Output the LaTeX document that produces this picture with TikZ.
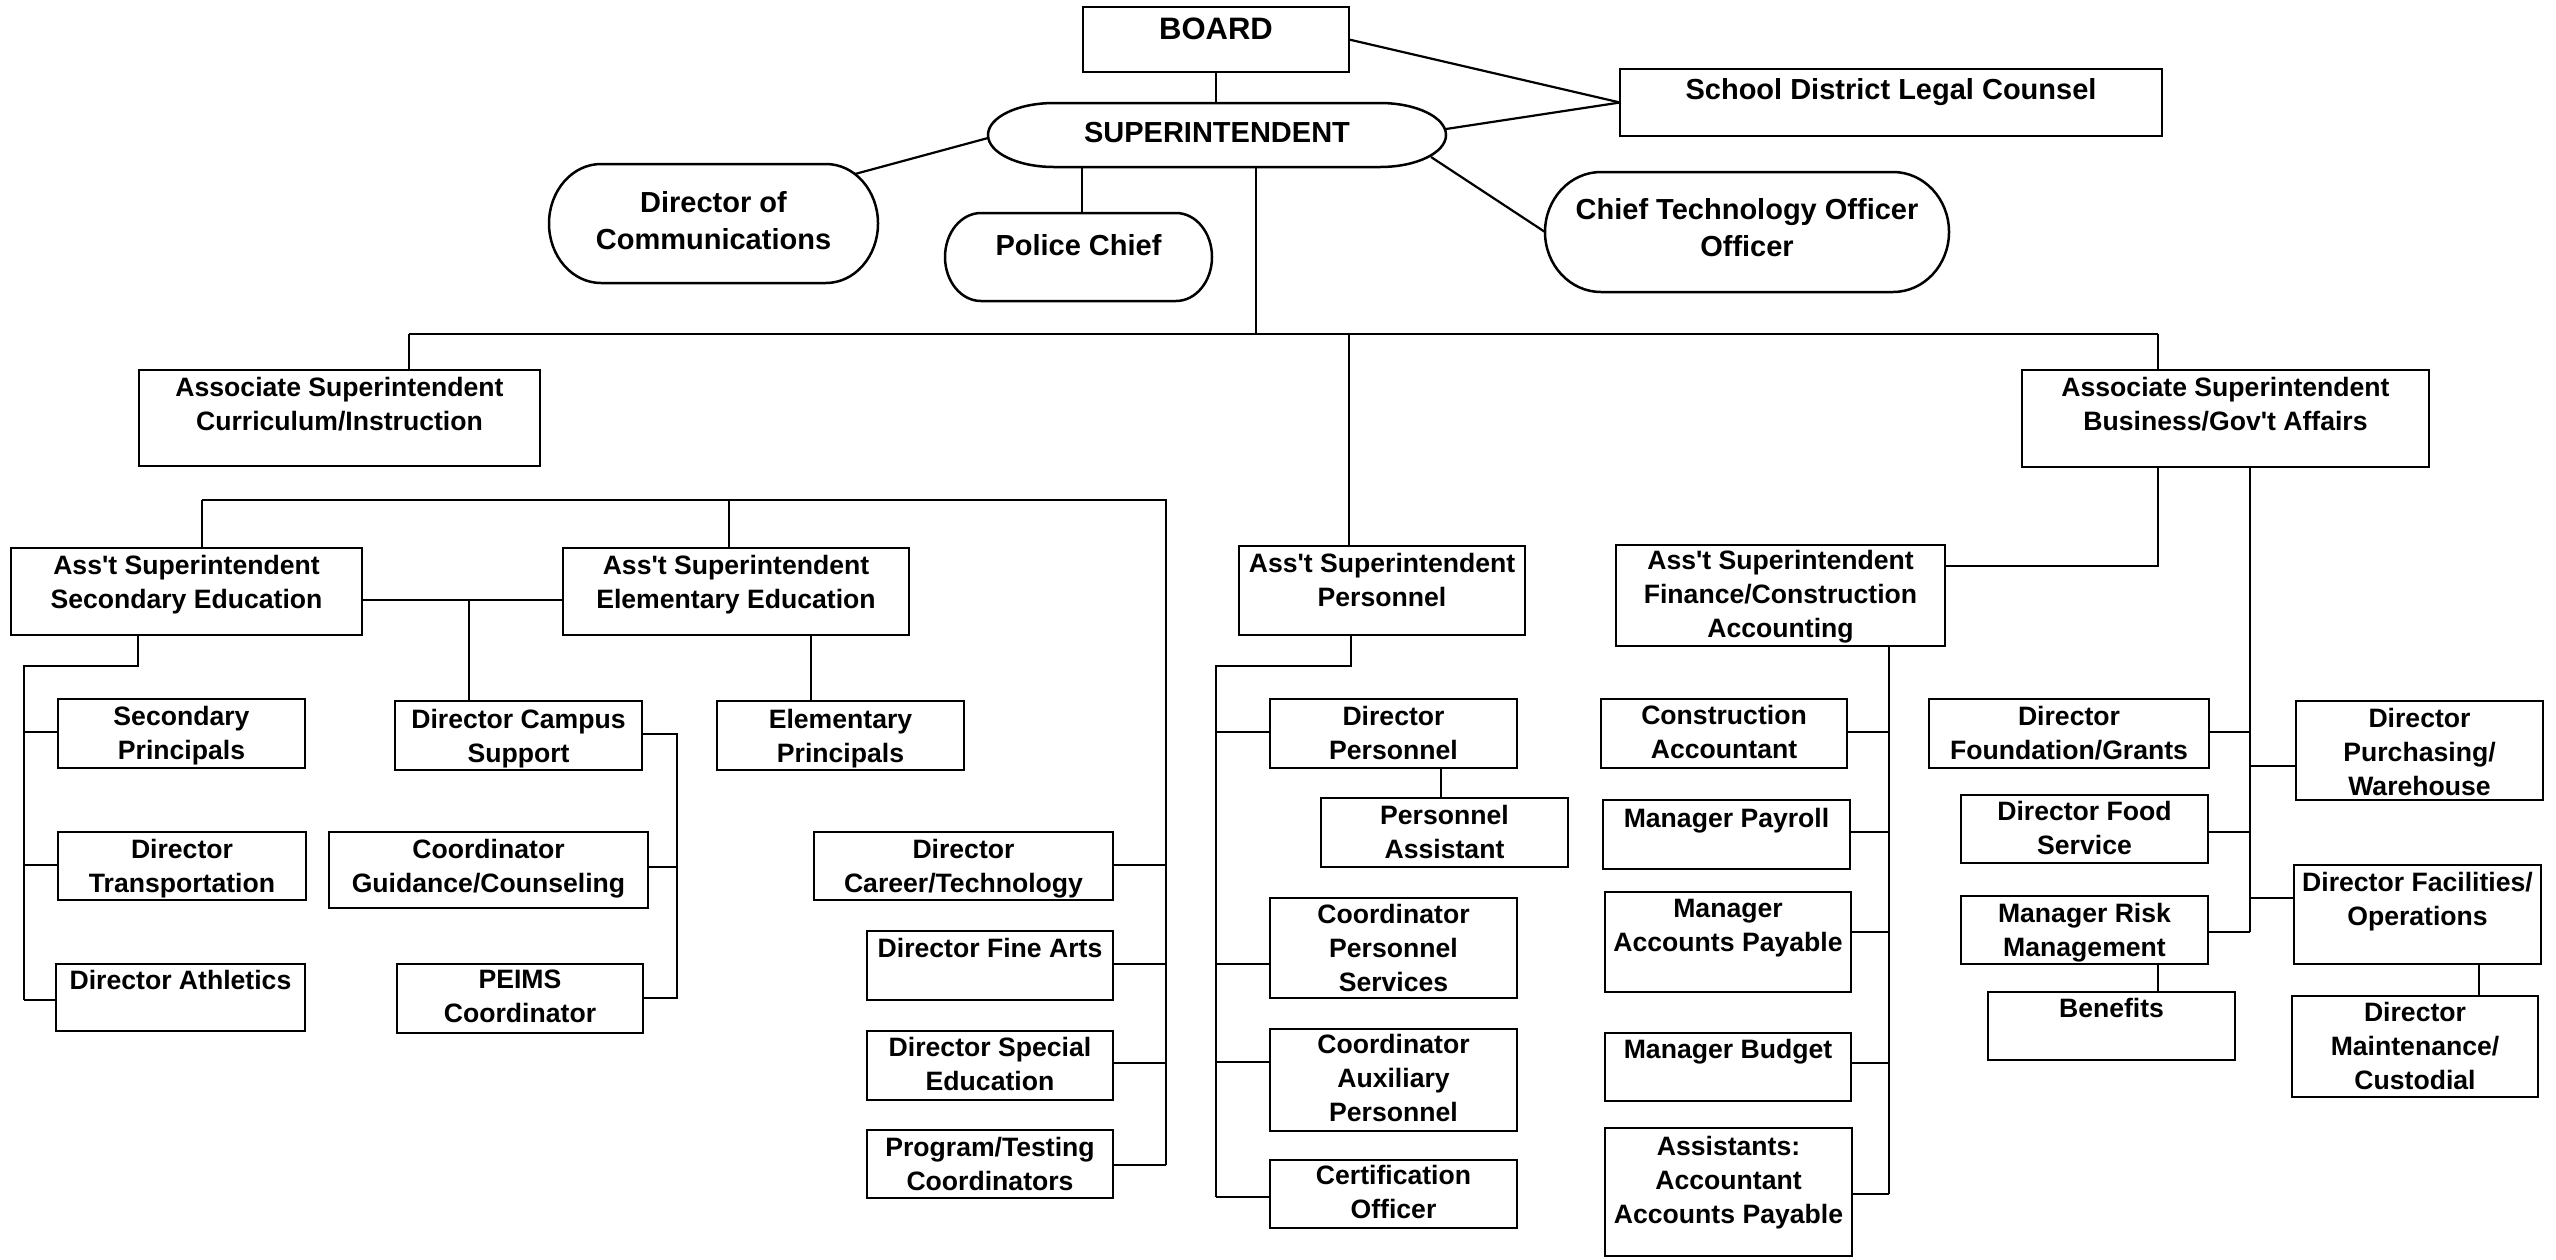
\documentclass[tikz,border=0pt]{standalone}
\usepackage{fontspec}
\newfontfamily\arialf{Liberation Sans}
\usetikzlibrary{calc}
\tikzset{
  boxst/.style={draw, line width=2.5pt, inner sep=0pt, outer sep=0pt, rectangle},
  ghost/.style={draw=none, inner sep=0pt, outer sep=0pt, rectangle},
  outl/.style={line width=2.5pt},
  conn/.style={line width=2.2pt},
  txt/.style={inner sep=0pt, outer sep=0pt, align=center, font=\arialf\bfseries\fontsize{26.6}{34.2}\selectfont},
  toptxt/.style={inner sep=0pt, outer sep=0pt, align=center, font=\arialf\bfseries\fontsize{29}{37.5}\selectfont}
}
% box: name, x1, y1, x2, y2, first-line centre y, text
\newcommand{\bx}[7]{%
  \node[boxst, minimum width={(#4-#2)*1pt}, minimum height={(#5-#3)*1pt}] (#1) at ({(#2+#4)/2},{(#3+#5)/2}) {};
  \node[txt, anchor=north] (#1-t) at ({(#2+#4)/2},{#6-12}) {#7};
}
% oval: name, x1, y1, x2, y2, bulge, first-line centre y, text
\newcommand{\ovl}[8]{%
  \node[ghost, minimum width={(#4-#2)*1pt}, minimum height={(#5-#3)*1pt}] (#1) at ({(#2+#4)/2},{(#3+#5)/2}) {};
  \draw[outl] ($(#1.north west)+(#6,0)$) -- ($(#1.north east)+(-#6,0)$)
     arc[start angle=90, end angle=-90, x radius=#6pt, y radius={(#5-#3)/2*1pt}]
     -- ($(#1.south west)+(#6,0)$)
     arc[start angle=270, end angle=90, x radius=#6pt, y radius={(#5-#3)/2*1pt}] -- cycle;
  \node[toptxt, anchor=north] (#1-t) at ({(#2+#4)/2},{#7-11}) {#8};
}
\begin{document}
\begin{tikzpicture}[x=1pt, y=-1pt]
\fill[white] (0,0) rectangle (2556,1259);
\useasboundingbox (0,0) rectangle (2556,1259);

% ---------- top level ----------
\node[boxst, minimum width=266pt, minimum height=65pt] (board) at (1216,39.5) {};
\node[inner sep=0pt, anchor=north, font=\arialf\bfseries\fontsize{31}{37}\selectfont] (board-t) at (1216,18) {BOARD};
\ovl{super}{988}{103}{1446}{167}{66}{133}{SUPERINTENDENT}
\node[boxst, minimum width=542pt, minimum height=67pt] (legal) at (1891,102.5) {};
\node[toptxt, anchor=north] (legal-t) at (1891,78.5) {School District Legal Counsel};
\ovl{comm}{549}{164}{878}{283}{52}{202}{Director of\\Communications}
\ovl{police}{945}{213}{1212}{301}{36}{245}{Police Chief}
\ovl{cto}{1545}{172}{1949}{292}{56}{209}{Chief Technology Officer\\Officer}

% ---------- second level ----------
\bx{curr}{139}{370}{540}{466}{389}{Associate Superintendent\\Curriculum/Instruction}
\bx{biz}{2022}{370}{2429}{467}{389}{Associate Superintendent\\Business/Gov't Affairs}

% ---------- curriculum branch ----------
\bx{sec}{11}{548}{362}{635}{567}{Ass't Superintendent\\Secondary Education}
\bx{elem}{563}{548}{909}{635}{567}{Ass't Superintendent\\Elementary Education}
\bx{secp}{58}{699}{305}{768}{718}{Secondary\\Principals}
\bx{trans}{58}{832}{306}{900}{851}{Director\\Transportation}
\bx{ath}{56}{964}{305}{1031}{982}{Director Athletics}
\bx{campus}{395}{701}{642}{770}{721}{Director Campus\\Support}
\bx{guid}{329}{832}{648}{908}{851}{Coordinator\\Guidance/Counseling}
\bx{peims}{397}{964}{643}{1033}{982}{PEIMS\\Coordinator}
\bx{elemp}{717}{701}{964}{770}{721}{Elementary\\Principals}
\bx{career}{814}{832}{1113}{900}{851}{Director\\Career/Technology}
\bx{fine}{867}{931}{1113}{1000}{950}{Director Fine Arts}
\bx{sped}{867}{1031}{1113}{1100}{1049}{Director Special\\Education}
\bx{prog}{867}{1130}{1113}{1198}{1149}{Program/Testing\\Coordinators}

% ---------- personnel branch ----------
\bx{pers}{1239}{546}{1525}{635}{565}{Ass't Superintendent\\Personnel}
\bx{dirp}{1270}{699}{1517}{768}{718}{Director\\Personnel}
\bx{passt}{1321}{798}{1568}{867}{817}{Personnel\\Assistant}
\bx{cps}{1270}{898}{1517}{998}{916}{Coordinator\\Personnel\\Services}
\bx{caux}{1270}{1029}{1517}{1131}{1046}{Coordinator\\Auxiliary\\Personnel}
\bx{cert}{1270}{1160}{1517}{1228}{1177}{Certification\\Officer}

% ---------- finance branch ----------
\bx{fin}{1616}{545}{1945}{646}{562}{Ass't Superintendent\\Finance/Construction\\Accounting}
\bx{conacc}{1601}{699}{1847}{768}{717}{Construction\\Accountant}
\bx{payroll}{1603}{800}{1850}{869}{820}{Manager Payroll}
\bx{map}{1605}{892}{1851}{992}{911}{Manager\\Accounts Payable}
\bx{budget}{1605}{1033}{1851}{1101}{1051}{Manager Budget}
\bx{assist}{1605}{1128}{1852}{1256}{1148}{Assistants:\\Accountant\\Accounts Payable}

% ---------- business branch ----------
\bx{found}{1929}{699}{2209}{768}{718}{Director\\Foundation/Grants}
\bx{food}{1961}{795}{2208}{863}{813}{Director Food\\Service}
\bx{risk}{1961}{896}{2208}{964}{915}{Manager Risk\\Management}
\bx{benefits}{1988}{992}{2235}{1060}{1010}{Benefits}
\bx{purch}{2296}{701}{2543}{800}{720}{Director\\Purchasing/\\Warehouse}
\bx{facil}{2294}{865}{2541}{964}{884}{Director Facilities/\\Operations}
\bx{maint}{2292}{996}{2538}{1097}{1014}{Director\\Maintenance/\\Custodial}

% ---------- connectors: top ----------
\coordinate (s-r) at (1446,129);
\coordinate (s-l) at (988,138);
\coordinate (s-br) at (1431,157);
\coordinate (c-tr) at (855,174);
\draw[conn] (board.south) -- (board.south |- super.north);
\draw[conn] (board.east) -- (legal.west);
\draw[conn] (s-r) -- (legal.west);
\draw[conn] (s-br) -- (cto.west);
\draw[conn] (s-l) -- (c-tr);
\coordinate (pc) at (1082,190);
\draw[conn] (pc |- super.south) -- (pc |- police.north);

% main bus
\coordinate (b-l) at (409,334);
\coordinate (b-r) at (2158,334);
\coordinate (b-s) at (1256,334);
\coordinate (b-p) at (1349,334);
\draw[conn] (b-s |- super.south) -- (b-s);
\draw[conn] (b-l) -- (b-r);
\draw[conn] (b-l) -- (b-l |- curr.north);
\draw[conn] (b-r) -- (b-r |- biz.north);
\draw[conn] (b-p) -- (b-p |- pers.north);

% ---------- connectors: curriculum ----------
\coordinate (cb-l) at (202,500);
\coordinate (cb-m) at (729,500);
\coordinate (cb-r) at (1166,500);
\coordinate (cb-e) at (1166,1165);
\draw[conn] (cb-l) -- (cb-r) -- (cb-e);
\draw[conn] (cb-l) -- (cb-l |- sec.north);
\draw[conn] (cb-m) -- (cb-m |- elem.north);
\coordinate (cr1) at (1166,865);
\coordinate (cr2) at (1166,964);
\coordinate (cr3) at (1166,1063);
\draw[conn] (cr1) -- (cr1 -| career.east);
\draw[conn] (cr2) -- (cr2 -| fine.east);
\draw[conn] (cr3) -- (cr3 -| sped.east);
\draw[conn] (cb-e) -- (cb-e -| prog.east);

\coordinate (se-m) at (469,600);
\draw[conn] (se-m -| sec.east) -- (se-m -| elem.west);
\draw[conn] (se-m) -- (se-m |- campus.north);

\coordinate (sb) at (138,666);
\coordinate (sb-l) at (24,666);
\coordinate (sb-e) at (24,1000);
\draw[conn] (sb |- sec.south) -- (sb) -- (sb-l) -- (sb-e);
\coordinate (sb1) at (24,732);
\coordinate (sb2) at (24,865);
\draw[conn] (sb1) -- (sb1 -| secp.west);
\draw[conn] (sb2) -- (sb2 -| trans.west);
\draw[conn] (sb-e) -- (sb-e -| ath.west);

\coordinate (ex) at (811,660);
\draw[conn] (ex |- elem.south) -- (ex |- elemp.north);

\coordinate (cbr-t) at (677,734);
\coordinate (cbr-m) at (677,867);
\coordinate (cbr-b) at (677,998);
\draw[conn] (cbr-t -| campus.east) -- (cbr-t) -- (cbr-b) -- (cbr-b -| peims.east);
\draw[conn] (cbr-m) -- (cbr-m -| guid.east);

% ---------- connectors: personnel ----------
\coordinate (pb) at (1351,666);
\coordinate (pb-l) at (1216,666);
\coordinate (pb-e) at (1216,1197);
\draw[conn] (pb |- pers.south) -- (pb) -- (pb-l) -- (pb-e);
\coordinate (p1) at (1216,732);
\coordinate (p2) at (1216,964);
\coordinate (p3) at (1216,1062);
\draw[conn] (p1) -- (p1 -| dirp.west);
\draw[conn] (p2) -- (p2 -| cps.west);
\draw[conn] (p3) -- (p3 -| caux.west);
\draw[conn] (pb-e) -- (pb-e -| cert.west);
\coordinate (pa) at (1441,780);
\draw[conn] (pa |- dirp.south) -- (pa |- passt.north);

% ---------- connectors: finance ----------
\coordinate (fz) at (2158,566);
\draw[conn] (fz -| fin.east) -- (fz) -- (fz |- biz.south);
\coordinate (fb) at (1889,700);
\coordinate (fb-e) at (1889,1194);
\draw[conn] (fb |- fin.south) -- (fb-e);
\coordinate (f1) at (1889,732);
\coordinate (f2) at (1889,832);
\coordinate (f3) at (1889,932);
\coordinate (f4) at (1889,1063);
\draw[conn] (f1) -- (f1 -| conacc.east);
\draw[conn] (f2) -- (f2 -| payroll.east);
\draw[conn] (f3) -- (f3 -| map.east);
\draw[conn] (f4) -- (f4 -| budget.east);
\draw[conn] (fb-e) -- (fb-e -| assist.east);

% ---------- connectors: business ----------
\coordinate (bz) at (2250,600);
\coordinate (bz-e) at (2250,932);
\draw[conn] (bz |- biz.south) -- (bz-e);
\coordinate (z1) at (2250,732);
\coordinate (z2) at (2250,832);
\coordinate (z4) at (2250,766);
\coordinate (z5) at (2250,898);
\draw[conn] (z1) -- (z1 -| found.east);
\draw[conn] (z2) -- (z2 -| food.east);
\draw[conn] (bz-e) -- (bz-e -| risk.east);
\draw[conn] (z4) -- (z4 -| purch.west);
\draw[conn] (z5) -- (z5 -| facil.west);
\coordinate (rb) at (2158,980);
\draw[conn] (rb |- risk.south) -- (rb |- benefits.north);
\coordinate (fm) at (2479,980);
\draw[conn] (fm |- facil.south) -- (fm |- maint.north);
\end{tikzpicture}
\end{document}
